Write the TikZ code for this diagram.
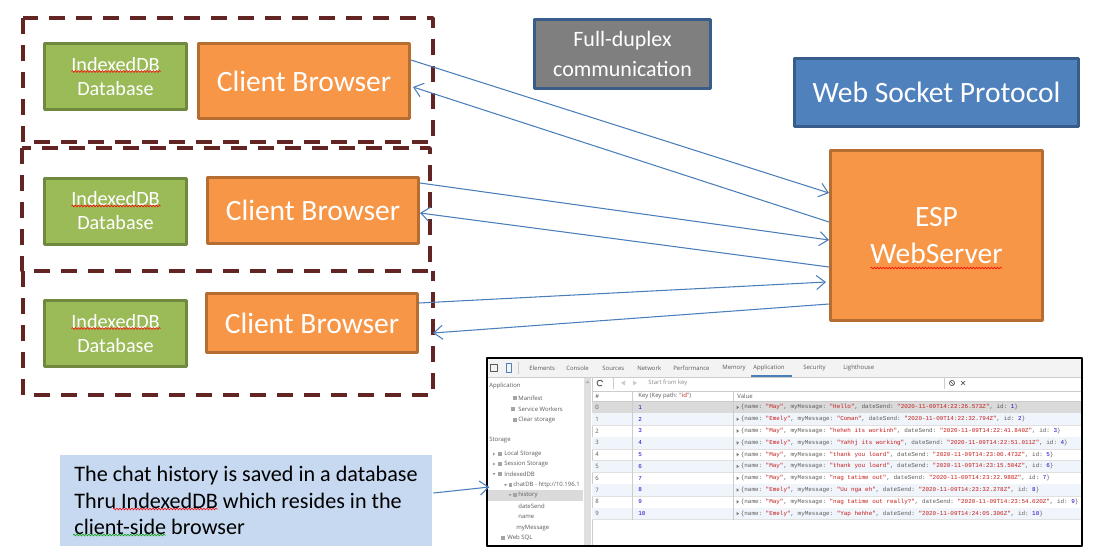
\documentclass[tikz,border=0pt]{standalone}
\usepackage{fontspec}
\setmainfont{Carlito}
\setmonofont{Liberation Mono}
\newfontfamily\uifont{Open Sans}
\usepackage{tikz}
\usetikzlibrary{arrows.meta,calc,decorations.pathmorphing}
\definecolor{dbfill}{HTML}{9BBB59}
\definecolor{dbline}{HTML}{71893F}
\definecolor{cbfill}{HTML}{F79646}
\definecolor{cbline}{HTML}{B66D31}
\definecolor{bluefill}{HTML}{4F81BD}
\definecolor{blueline}{HTML}{385D8A}
\definecolor{grayfill}{HTML}{7F7F7F}
\definecolor{groupline}{HTML}{632523}
\definecolor{linkblue}{HTML}{4A7EBB}
\definecolor{notefill}{HTML}{C6D9F1}
\definecolor{uitext}{HTML}{5A5A5A}
\definecolor{strred}{HTML}{C41A16}
\definecolor{numblue}{HTML}{1C00CF}
\definecolor{rowblue}{HTML}{F0F5FC}
\definecolor{selgray}{HTML}{DADADA}
\definecolor{barbg}{HTML}{F3F3F3}
\definecolor{rulegray}{HTML}{CCCCCC}

\begin{document}
\begin{tikzpicture}[x=0.02cm,y=-0.02cm,line join=round,>={Straight Barb[length=5pt,width=8pt]},
  dbbox/.style={draw=dbline,fill=dbfill,line width=1.7pt,text=white,align=center,inner sep=0pt,
    minimum width=2.84cm,minimum height=1.32cm,font=\fontsize{11.5}{13.7}\selectfont},
  clientbox/.style={draw=cbline,fill=cbfill,line width=1.7pt,text=white,inner sep=0pt,
    minimum width=4.22cm,font=\fontsize{16.8}{20}\selectfont},
  headbox/.style={draw=blueline,line width=1.7pt,text=white,align=center,inner sep=0pt},
  serverbox/.style={draw=cbline,fill=cbfill,line width=1.7pt,text=white,align=center,inner sep=0pt,
    minimum width=4.24cm,minimum height=3.4cm,font=\fontsize{16.8}{21.6}\selectfont},
  notebox/.style={fill=notefill,align=left,inner sep=0pt,minimum width=7.44cm,minimum height=1.82cm,
    font=\fontsize{12.6}{15.1}\selectfont},
  groupframe/.style={draw=groupline,line width=2pt,dash pattern=on 0.32cm off 0.22cm},
  link/.style={->,draw=linkblue,line width=0.6pt},
  squiggle/.style={draw=red,line width=0.3pt,decorate,decoration={snake,segment length=0.06cm,amplitude=0.02cm}},
  uilabel/.style={font=\uifont\fontsize{3.4}{4}\selectfont,text=uitext,inner sep=0pt,anchor=west},
  valtext/.style={font=\ttfamily\fontsize{3.37}{4}\selectfont,text=uitext,inner sep=0pt,anchor=west}]
  \useasboundingbox (0,0) rectangle (1097,556);

  \draw[groupframe] (23,18) rectangle (433,142);
  \draw[groupframe] (22,148) rectangle (430,271);
  \draw[groupframe] (23,271) -- (23,395) -- (433,395) -- (433,271);

  \node[dbbox] (db1) at (115.5,76.5) {IndexedDB\\Database};
  \node[dbbox] (db2) at (115.5,211) {IndexedDB\\Database};
  \node[dbbox] (db3) at (115.5,333.5) {IndexedDB\\Database};
  \node[clientbox,minimum height=1.5cm] (cb1) at (304,81) {Client Browser};
  \node[clientbox,minimum height=1.32cm] (cb2) at (313,210.5) {Client Browser};
  \node[clientbox,minimum height=1.18cm] (cb3) at (312,323) {Client Browser};
  \foreach \d in {db1,db2,db3}
    \draw[squiggle] ($(\d.center)+(-44,-5)$) -- ++(89,0);

  \node[headbox,fill=grayfill,minimum width=3.52cm,minimum height=1.38cm,
    font=\fontsize{12.5}{17}\selectfont] (duplex) at (622.5,54) {Full-duplex\\communication};
  \node[headbox,fill=bluefill,minimum width=5.68cm,minimum height=1.36cm,
    font=\fontsize{16.8}{20}\selectfont] (wsp) at (936.5,92.5) {Web Socket Protocol};
  \node[serverbox] (esp) at (936.5,235.5) {ESP\\WebServer};
  \draw[squiggle] ($(esp.center)+(-66,32.5)$) -- ++(132,0);

  \draw[link] ($(cb1.east)+(0,-21)$) -- ($(esp.west)+(0,-42.5)$);
  \draw[link] ($(esp.west)+(0,-13.5)$) -- ($(cb1.east)+(2,6)$);
  \draw[link] ($(cb2.east)+(0,-27.5)$) -- ($(esp.west)+(0,4.5)$);
  \draw[link] ($(esp.west)+(0,31.5)$) -- ($(cb2.east)+(0,2.5)$);
  \draw[link] ($(cb3.east)+(0,-20)$) -- ($(esp.west)+(-3,46.5)$);
  \draw[link] ($(esp.west)+(0,68.5)$) -- ($(cb3.east)+(14,10)$);

  \node[notebox] (note) at (246,500.5) {The chat history is saved in a database\\Thru IndexedDB which resides in the\\client-side browser};
  \draw[squiggle] (113,509) -- (218,509);
  \draw[squiggle,draw=green!60!black] (73,535) -- (166,535);

  % devtools screenshot
  \fill[white] (487,358) rectangle (1082,546);
  \fill[barbg] (487,358) rectangle (1082,377);
  \draw[rulegray,line width=0.3pt] (487,377) -- (1082,377);
  \draw[uitext,line width=0.3pt] (490,364) rectangle (497,371);
  \draw[bluefill,line width=0.4pt] (506,363) rectangle (511,372);
  \draw[rulegray,line width=0.3pt] (518,362) -- (518,374);
  \foreach \t/\x in {Elements/529,Console/566,Sources/602,Network/637,Performance/673,Memory/722,Application/753,Security/803,Lighthouse/843}
    \node[uilabel] (tab\t) at (\x,368) {\t};
  \draw[linkblue,line width=0.7pt] (751,376) -- (792,376);

  \fill[selgray] (487,490) rectangle (583,501);
  \fill[gray!25] (584,378) rectangle (591,546);
  \fill[gray!60] (585.5,383) -- (589.5,383) -- (587.5,380.5) -- cycle;
  \draw[rulegray,line width=0.3pt] (592,377) -- (592,546);
  \foreach \t/\x/\y [count=\n] in {Application/489/386,Manifest/518/398,Service Workers/518/409,Clear storage/518/420,Storage/489/440,Local Storage/504/454,Session Storage/504/464,IndexedDB/504/474,history/518/495,dateSend/518/506,name/518/517,myMessage/516/528,Web SQL/507/538}
    \node[uilabel] (side\n) at (\x,\y) {\t};
  \node[uilabel] (sidedb) at (513,485) {chatDB - http://10.196.1};
  \foreach \x/\y in {513/398,511/409,513/420,498/454,498/464,498/474,508.5/485,513/495,501/538}
    \fill[uitext!55] (\x,{\y-2}) rectangle ++(3.6,4);
  \foreach \x/\y in {493/454,493/464}
    \fill[uitext!60] (\x,{\y-1.5}) -- ++(0,3) -- ++(2.2,-1.5) -- cycle;
  \foreach \x/\y in {492.5/474,504/485,508.5/495}
    \fill[uitext!60] (\x,{\y-1}) -- ++(3,0) -- ++(-1.5,2.2) -- cycle;

  \draw[uitext,line width=0.5pt] (600,383) ++(50:3) arc (50:340:3);
  \draw[rulegray,line width=0.3pt] (613,378) -- (613,389);
  \fill[rulegray] (621,383) -- (625,380.5) -- (625,385.5) -- cycle;
  \fill[rulegray] (637,383) -- (633,380.5) -- (633,385.5) -- cycle;
  \node[uilabel,text=uitext!70] (search) at (648,383) {Start from key};
  \draw[rulegray,line width=0.3pt] (944,378) -- (944,389);
  \draw[uitext,line width=0.4pt] (952,383) circle (2.6) (950.2,381.2) -- (953.8,384.8);
  \draw[uitext,line width=0.4pt] (961,381) -- (965,385) (961,385) -- (965,381);
  \draw[rulegray,line width=0.3pt] (592,391) -- (1082,391);

  \foreach \i in {0,...,9} {
    \ifnum\i=0 \fill[selgray] (592,401.5) rectangle (1081.5,413.3);
    \else\ifodd\i \fill[rowblue] (592,{401.5+11.8*\i}) rectangle (1081.5,{413.3+11.8*\i}); \fi\fi
    \draw[rulegray!60,line width=0.2pt] (592,{413.3+11.8*\i}) -- (1081.5,{413.3+11.8*\i});
  }
  \draw[rulegray,line width=0.3pt] (592,401.5) -- (1082,401.5);
  \draw[rulegray,line width=0.3pt] (632,391) -- (632,519.5) (733,391) -- (733,519.5);
  \node[uilabel] (colnum) at (595,396) {\#};
  \node[uilabel] (colkey) at (638,396) {Key (Key path: "{\color{strred}id}")};
  \node[uilabel] (colval) at (737,396) {Value};

  \foreach \i/\k/\nm/\msg/\dt in {0/1/May/Hello/22:26.573Z,1/2/Emely/Coman/22:32.794Z,2/3/May/heheh its workinh/22:41.840Z,3/4/Emely/Yahhj its working/22:51.011Z,4/5/May/thank you loard/23:00.473Z,5/6/May/thank you loard/23:15.504Z,6/7/May/nag tatime out/23:22.988Z,7/8/Emely/Uu nga eh/23:32.278Z,8/9/May/nag tatime out really?/23:54.020Z,9/10/Emely/Yap hehhe/24:05.306Z} {
    \node[uilabel] (num\i) at (595,{407.4+11.8*\i}) {\i};
    \node[valtext,text=numblue] (key\i) at (638,{407.4+11.8*\i}) {\k};
    \fill[uitext!80] (736.5,{405.6+11.8*\i}) -- ++(0,3.6) -- ++(2.6,-1.8) -- cycle;
    \node[valtext] (val\i) at (740.5,{407.4+11.8*\i}) {\{name: {\color{strred}"\nm"}, myMessage: {\color{strred}"\msg"}, dateSend: {\color{strred}"2020-11-09T14:\dt"}, id: {\color{numblue}\k}\}};
  }

  \node[draw=black,line width=0.8pt,inner sep=0pt,minimum width=11.9cm,minimum height=3.76cm] (shot) at (784.5,452) {};
  \draw[link] ($(note.east)+(1,-7.5)$) -- ($(shot.west)+(3,35)$);
\end{tikzpicture}
\end{document}
